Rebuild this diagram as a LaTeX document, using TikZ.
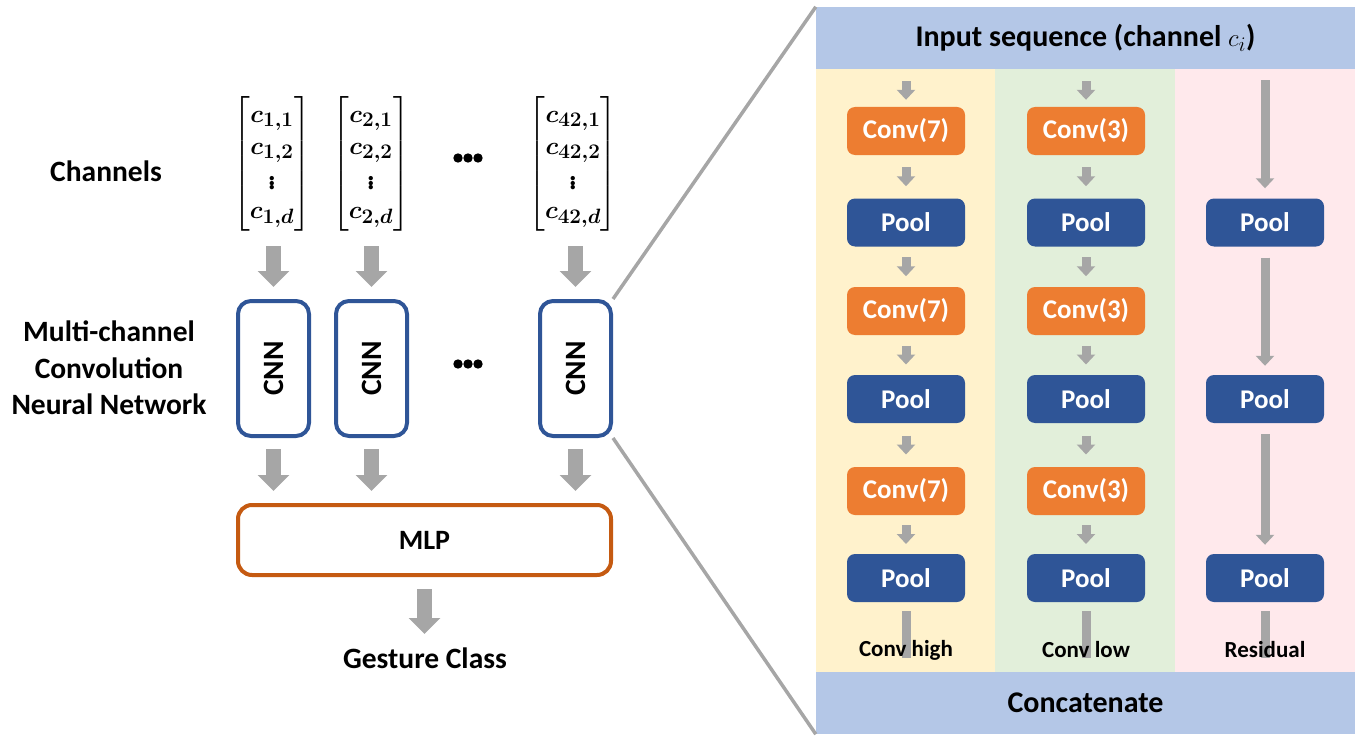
\documentclass[tikz,border=0pt]{standalone}
\usepackage{amsmath}
\usepackage{graphicx}
\usepackage{fontspec}
\setmainfont{Carlito}
\usetikzlibrary{arrows.meta,calc}
\definecolor{arrowgray}{HTML}{A6A6A6}
\definecolor{cnnblue}{HTML}{2F5597}
\definecolor{mlporange}{HTML}{C55A11}
\definecolor{convorange}{HTML}{ED7D31}
\definecolor{poolblue}{HTML}{2F5597}
\definecolor{hdrblue}{HTML}{B4C7E7}
\definecolor{laneyellow}{HTML}{FFF2CC}
\definecolor{lanegreen}{HTML}{E2EFDA}
\definecolor{lanepink}{HTML}{FFE9EC}
\newcommand\midarrow[2]{\draw[smallarrow] ([yshift=9.5pt]$(#1.south)!.5!(#2.north)$) -- ([yshift=-9.5pt]$(#1.south)!.5!(#2.north)$);}
\newcommand\bigvdots{\vcenter{\hbox{\fontsize{36}{36}\selectfont$\vdots$}}}
\begin{document}
\begin{tikzpicture}[x=1pt,y=-1pt,
  lbl/.style={font=\fontsize{29.5}{36.5}\selectfont\bfseries, align=center, inner sep=0pt},
  mat/.style={font=\fontsize{30}{32}\selectfont\boldmath, inner sep=0pt},
  cnnbox/.style={draw=cnnblue, fill=white, line width=4pt, rounded corners=13pt, minimum width=71pt, minimum height=135pt, inner sep=0pt, font=\fontsize{29.5}{29.5}\selectfont\bfseries},
  mlpbox/.style={draw=mlporange, fill=white, line width=4pt, rounded corners=14pt, minimum width=373pt, minimum height=70pt, inner sep=0pt, font=\fontsize{28}{28}\selectfont\bfseries},
  hdrbox/.style={fill=hdrblue, minimum width=539pt, minimum height=62pt, inner sep=0pt, font=\fontsize{30}{30}\selectfont\bfseries},
  convbox/.style={fill=convorange, rounded corners=8pt, minimum width=118pt, minimum height=48pt, inner sep=0pt, text=white, font=\fontsize{27}{27}\selectfont\bfseries},
  poolbox/.style={fill=poolblue, rounded corners=8pt, minimum width=118pt, minimum height=48pt, inner sep=0pt, text=white, font=\fontsize{27}{27}\selectfont\bfseries},
  lanelbl/.style={font=\fontsize{23}{23}\selectfont\bfseries, inner sep=0pt},
  bigarrow/.style={draw=arrowgray, line width=15pt, -{Triangle[width=31pt,length=16pt]}},
  smallarrow/.style={draw=arrowgray, line width=9pt, -{Triangle[width=18pt,length=10pt]}},
  shaftline/.style={draw=arrowgray, line width=9pt},
  zoomline/.style={draw=arrowgray, line width=3.5pt},
  dot/.style={fill=black}
]
\useasboundingbox (0,0) rectangle (1362,741);

% ---------- right panel backgrounds ----------
\fill[laneyellow] (816,69) rectangle (995,672);
\fill[lanegreen] (995,69) rectangle (1175,672);
\fill[lanepink] (1175,69) rectangle (1355,672);
\node[hdrbox] (hdr) at (1085.5,38) {Input sequence (channel $c_i$)};
\node[hdrbox] (cat) at (1085.5,703) {Concatenate};

% ---------- lane boxes ----------
\node[convbox] (c11) at (906,131) {Conv(7)};
\node[poolbox] (p11) at (906,222.5) {Pool};
\node[convbox] (c12) at (906,311) {Conv(7)};
\node[poolbox] (p12) at (906,399) {Pool};
\node[convbox] (c13) at (906,491) {Conv(7)};
\node[poolbox] (p13) at (906,578) {Pool};

\node[convbox] (c21) at (1086,131) {Conv(3)};
\node[poolbox] (p21) at (1086,222.5) {Pool};
\node[convbox] (c22) at (1086,311) {Conv(3)};
\node[poolbox] (p22) at (1086,399) {Pool};
\node[convbox] (c23) at (1086,491) {Conv(3)};
\node[poolbox] (p23) at (1086,578) {Pool};

\node[poolbox] (p31) at (1265,222.5) {Pool};
\node[poolbox] (p32) at (1265,399) {Pool};
\node[poolbox] (p33) at (1265,578) {Pool};

% ---------- lane arrows ----------
\draw[smallarrow, shorten <=12pt, shorten >=7pt] (c11 |- hdr.south) -- (c11.north);
\midarrow{c11}{p11}
\midarrow{p11}{c12}
\midarrow{c12}{p12}
\midarrow{p12}{c13}
\midarrow{c13}{p13}
\draw[smallarrow, shorten <=12pt, shorten >=7pt] (c21 |- hdr.south) -- (c21.north);
\midarrow{c21}{p21}
\midarrow{p21}{c22}
\midarrow{c22}{p22}
\midarrow{p22}{c23}
\midarrow{c23}{p23}
\draw[smallarrow, shorten <=11pt, shorten >=10pt] (p31 |- hdr.south) -- (p31.north);
\draw[smallarrow, shorten <=11pt, shorten >=9pt] (p31.south) -- (p32.north);
\draw[smallarrow, shorten <=11pt, shorten >=9pt] (p32.south) -- (p33.north);

\draw[shaftline, shorten <=9pt, shorten >=14pt] (p13.south) -- (p13 |- cat.north);
\draw[shaftline, shorten <=9pt, shorten >=14pt] (p23.south) -- (p23 |- cat.north);
\draw[shaftline, shorten <=9pt, shorten >=14pt] (p33.south) -- (p33 |- cat.north);

\node[lanelbl] (l1) at (906,650) {Conv high};
\node[lanelbl] (l2) at (1086,650) {Conv low};
\node[lanelbl] (l3) at (1265,650) {Residual};

% ---------- left side ----------
\node[lbl] (chl) at (106,171) {Channels};
\node[lbl] (mcl) at (109,368) {Multi-channel\\Convolution\\Neural Network};

\node[mat] (m1) at (272,164) {$\left[\begin{matrix} c_{1,1}\\ c_{1,2}\\ \bigvdots\\ c_{1,d}\end{matrix}\right]$};
\node[mat] (m2) at (371,164) {$\left[\begin{matrix} c_{2,1}\\ c_{2,2}\\ \bigvdots\\ c_{2,d}\end{matrix}\right]$};
\node[mat] (m3) at (573,164) {$\left[\begin{matrix} c_{42,1}\\ c_{42,2}\\ \bigvdots\\ c_{42,d}\end{matrix}\right]$};

\fill[dot] (458,158) circle[radius=4.7pt] (468,158) circle[radius=4.7pt] (478,158) circle[radius=4.7pt];
\fill[dot] (458,364) circle[radius=4.7pt] (468,364) circle[radius=4.7pt] (478,364) circle[radius=4.7pt];

\node[cnnbox] (cnn1) at (273.5,368.5) {\rotatebox{90}{CNN}};
\node[cnnbox] (cnn2) at (371.5,368.5) {\rotatebox{90}{CNN}};
\node[cnnbox] (cnn3) at (575.5,368.5) {\rotatebox{90}{CNN}};

\node[mlpbox] (mlp) at (424.5,540) {MLP};
\node[lbl] (gc) at (425,658) {Gesture Class};

\draw[bigarrow] ([yshift=-15pt]cnn1 |- m1.south) -- ([yshift=12pt]cnn1.north);
\draw[bigarrow] ([yshift=-15pt]cnn2 |- m2.south) -- ([yshift=12pt]cnn2.north);
\draw[bigarrow] ([yshift=-15pt]cnn3 |- m3.south) -- ([yshift=12pt]cnn3.north);

\draw[bigarrow] ([yshift=-11pt]cnn1.south) -- ([yshift=12pt]cnn1 |- mlp.north);
\draw[bigarrow] ([yshift=-11pt]cnn2.south) -- ([yshift=12pt]cnn2 |- mlp.north);
\draw[bigarrow] ([yshift=-11pt]cnn3.south) -- ([yshift=12pt]cnn3 |- mlp.north);

\draw[bigarrow] ([yshift=-12pt]mlp.south) -- ([yshift=-57pt]mlp.south);

% ---------- zoom lines ----------
\draw[zoomline] (cnn3.north east) -- (hdr.north west);
\draw[zoomline] (cnn3.south east) -- (cat.south west);
\end{tikzpicture}
\end{document}
